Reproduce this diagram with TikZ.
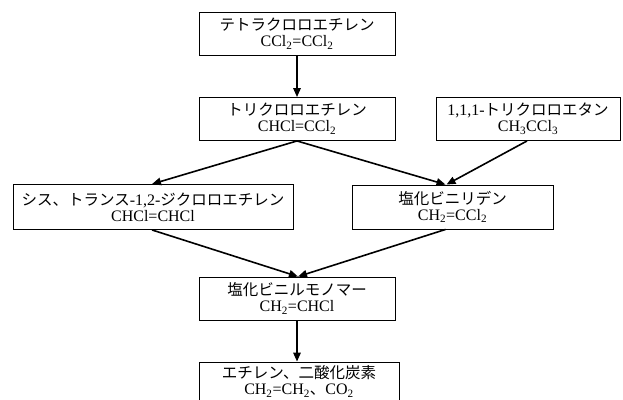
\documentclass[tikz,border=0pt]{standalone}
\usepackage{fontspec}
\setmainfont{Liberation Serif}
\newfontfamily\jp{Noto Sans CJK JP}
\usetikzlibrary{arrows.meta}
\newcommand{\sbs}[1]{\textsubscript{#1}}
\newcommand{\jt}[1]{{\jp\fontsize{15.5}{16}\selectfont #1}}
\begin{document}
\begin{tikzpicture}[x=1pt,y=-1pt,
  box/.style={draw, line width=0.9pt, minimum height=43pt, inner sep=0pt, align=center,
    font=\fontsize{16}{16}\selectfont},
  arr/.style={line width=1.6pt, -{Triangle[length=9pt,width=7.5pt]}}]
\useasboundingbox (0,0) rectangle (623,399);
\node[box, minimum width=196pt] (b1) at (297,34) {\jt{テトラクロロエチレン}\\CCl\sbs{2}=CCl\sbs{2}};
\node[box, minimum width=196pt] (b2) at (297,119) {\jt{トリクロロエチレン}\\CHCl=CCl\sbs{2}};
\node[box, minimum width=184pt] (b3) at (528,119) {1,1,1-\jt{トリクロロエタン}\\CH\sbs{3}CCl\sbs{3}};
\node[box, minimum width=280pt, minimum height=45pt] (b4) at (153,207) {\jt{シス、トランス}-1,2-\jt{ジクロロエチレン}\\CHCl=CHCl};
\node[box, minimum width=201pt, minimum height=44pt] (b5) at (452.5,207) {\jt{塩化ビニリデン}\\CH\sbs{2}=CCl\sbs{2}};
\node[box, minimum width=196pt] (b6) at (297,298.5) {\jt{塩化ビニルモノマー}\\CH\sbs{2}=CHCl};
\node[box, minimum width=200pt] (b7) at (299,383.5) {\jt{エチレン、二酸化炭素}\\CH\sbs{2}=CH\sbs{2}\jt{、}CO\sbs{2}\rule[-7pt]{0pt}{7pt}};
\draw[arr] (b1.south) -- (b2.north);
\draw[arr] (b2.south) -- ([xshift=-1pt]b4.north);
\draw[arr] (b2.south) -- ([xshift=-7pt]b5.north);
\draw[arr] ([xshift=-1pt]b3.south) -- ([xshift=-6pt]b5.north);
\draw[arr] ([xshift=-1pt]b4.south) -- ([xshift=1pt]b6.north);
\draw[arr] ([xshift=-7pt]b5.south) -- ([xshift=1pt]b6.north);
\draw[arr] (b6.south) -- (b6.south |- b7.north);
\end{tikzpicture}
\end{document}
